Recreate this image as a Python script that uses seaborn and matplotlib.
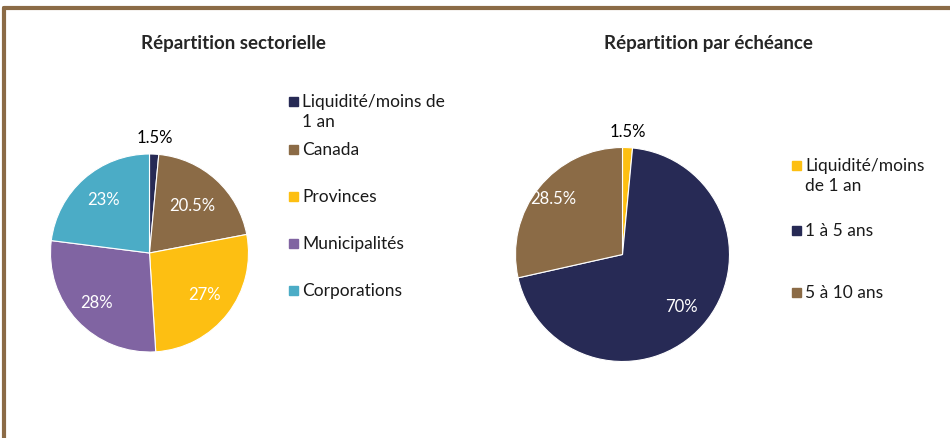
import numpy as np
import matplotlib
matplotlib.use("Agg")
import matplotlib.pyplot as plt
import seaborn as sns
from matplotlib.lines import Line2D
from matplotlib.patches import Rectangle

# data
sect_labels = ["Liquidité/moins de\n1 an", "Canada", "Provinces", "Municipalités", "Corporations"]
sect_values = [1.5, 20.5, 27, 28, 23]
sect_colors = ["#272A55", "#8B6B46", "#FDBF12", "#8064A2", "#4BACC6"]

ech_labels = ["Liquidité/moins\nde 1 an", "1 à 5 ans", "5 à 10 ans"]
ech_values = [1.5, 70, 28.5]
ech_colors = ["#FDBF12", "#272A55", "#8B6B46"]

sns.set_theme(style="white")
plt.rcParams["font.family"] = ["Lato", "DejaVu Sans"]

W, H = 950, 438
fig = plt.figure(figsize=(W / 100, H / 100), dpi=100)


def px_axes(cx, cy, r):
    # axes box in pixel coords (top-left origin) -> figure fraction
    return fig.add_axes([(cx - r) / W, (H - cy - r) / H, 2 * r / W, 2 * r / H])


def draw_pie(ax, values, colors, dists, txt_colors):
    wedges, _ = ax.pie(values, colors=colors, startangle=90, counterclock=False,
                       wedgeprops=dict(edgecolor="white", linewidth=0.8))
    for w, v, d, c in zip(wedges, values, dists, txt_colors):
        ang = np.deg2rad((w.theta1 + w.theta2) / 2)
        ax.text(d * np.cos(ang), d * np.sin(ang), f"{v:g}%", ha="center", va="center",
                color=c, fontsize=12)
    ax.set_xlim(-1, 1)
    ax.set_ylim(-1, 1)
    ax.axis("off")


def draw_legend(x, ys, labels, colors):
    for y, lab, col in zip(ys, labels, colors):
        fig.patches.append(Rectangle(((x - 5) / W, (H - y - 5) / H), 9 / W, 9 / H,
                                     transform=fig.transFigure, color=col, figure=fig))
        fig.text((x + 8) / W, (H - y + 7) / H, lab, ha="left", va="top", fontsize=12.5,
                 color="#1a1a1a", linespacing=1.3)


ax1 = px_axes(149.5, 253, 99)
draw_pie(ax1, sect_values, sect_colors, [1.16, 0.64, 0.7, 0.74, 0.71],
         ["black", "white", "white", "white", "white"])

ax2 = px_axes(622.5, 254.5, 107)
draw_pie(ax2, ech_values, ech_colors, [1.15, 0.74, 0.83],
         ["black", "white", "white"])

fig.text(233 / W, (H - 43) / H, "Répartition sectorielle", ha="center", va="center",
         fontsize=13.5, fontweight="bold")
fig.text(708 / W, (H - 43) / H, "Répartition par échéance", ha="center", va="center",
         fontsize=13.5, fontweight="bold")

draw_legend(294, [101, 149, 196, 243, 290], sect_labels, sect_colors)
draw_legend(797, [165, 230, 292], ech_labels, ech_colors)

# frame (top and left only)
border = "#8B6B46"
fig.add_artist(Line2D([3.5 / W, 1], [(H - 8) / H, (H - 8) / H], color=border, lw=3,
                      transform=fig.transFigure))
fig.add_artist(Line2D([3.5 / W, 3.5 / W], [0, (H - 8) / H], color=border, lw=3,
                      transform=fig.transFigure))

fig.savefig("out.png", dpi=100)
